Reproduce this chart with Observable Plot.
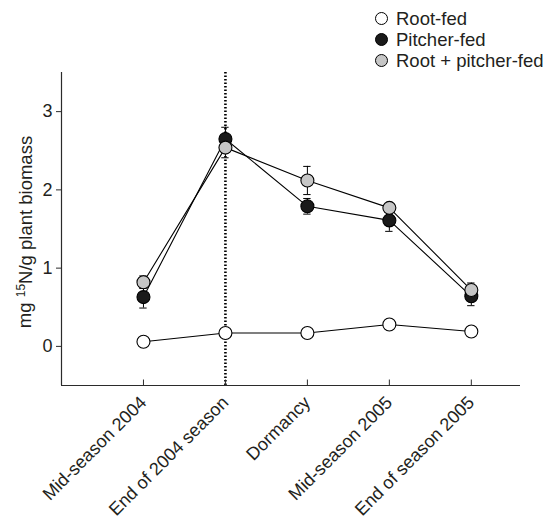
<!DOCTYPE html>
<html><head><meta charset="utf-8">
<script src="https://cdn.jsdelivr.net/npm/d3@7"></script>
<script src="https://cdn.jsdelivr.net/npm/@observablehq/plot@0.6"></script>
<style>
body{margin:0;background:#fff;font-family:"Liberation Sans",Arial,sans-serif;}
#wrap{position:relative;width:545px;height:520px;}
#legend{position:absolute;left:375px;top:8px;font-size:18.5px;color:#231f20;}
.row{display:flex;align-items:center;height:21px;white-space:nowrap;}
.sw{width:13px;height:13px;border-radius:50%;border:1px solid #000;box-sizing:border-box;margin-right:8px;flex:none;}
</style></head><body><div id="wrap"><div id="legend"></div></div>
<script>
const categories = ["Mid-season 2004","End of 2004 season","Dormancy","Mid-season 2005","End of season 2005"];
const seriesNames = ["Root-fed","Pitcher-fed","Root + pitcher-fed"];
const rootFed = [0.06,0.17,0.17,0.28,0.19];
const rootFedSE = [0.02,0.02,0.02,0.02,0.02];
const pitcherFed = [0.63,2.65,1.79,1.61,0.64];
const pitcherFedSE = [0.14,0.15,0.10,0.14,0.12];
const rootPitcherFed = [0.82,2.54,2.12,1.77,0.72];
const rootPitcherFedSE = [0.08,0.13,0.18,0.04,0.09];
const yTicks = [0,1,2,3];
const yLabelParts = ["mg ", "15", "N/g plant biomass"];
const fills = ["#ffffff","#1a1a1a","#c6c6c6"];
const markerCategory = "End of 2004 season";

const values = [rootFed, pitcherFed, rootPitcherFed];
const ses = [rootFedSE, pitcherFedSE, rootPitcherFedSE];
const rows = [];
seriesNames.forEach((s, k) => categories.forEach((c, i) => rows.push({series: s, k, i, value: values[k][i], se: ses[k][i]})));
const fillOf = Object.fromEntries(seriesNames.map((s, k) => [s, fills[k]]));
const capHalf = 0.045;

const chart = Plot.plot({
  width: 545, height: 520,
  marginLeft: 61, marginRight: 25, marginTop: 72, marginBottom: 135,
  style: {fontFamily: "Liberation Sans, Arial, sans-serif", fontSize: "18px", color: "#231f20", background: "white", overflow: "visible"},
  x: {type: "linear", domain: [-1, 4.6]},
  y: {domain: [-0.5, 3.5]},
  marks: [
    Plot.ruleX([categories.indexOf(markerCategory)], {x: d => d, y1: -0.5, y2: 3.5, stroke: "#000", strokeWidth: 2.6, strokeDasharray: "1.6,1.9"}),
    Plot.ruleX([-1], {stroke: "#2b2b2b", strokeWidth: 1.2}),
    Plot.ruleY([-0.5], {stroke: "#2b2b2b", strokeWidth: 1.2}),
    Plot.axisY({ticks: yTicks, tickFormat: "d", tickSize: 5, tickPadding: 4, stroke: "#2b2b2b", label: null}),
    Plot.text([yLabelParts.join("")], {frameAnchor: "left", rotate: -90, dx: -36, dy: 3, textAnchor: "middle", fill: "#231f20", className: "ylabel", fontSize: 18.5}),
    Plot.axisX({ticks: d3.range(categories.length), tickFormat: i => categories[i], tickRotate: -45, tickSize: 0, tickPadding: 14, label: null}),
    Plot.ruleX(d3.range(categories.length), {x: d => d, y1: -0.5, y2: -0.43, stroke: "#2b2b2b"}),
    Plot.line(rows, {x: "i", y: "value", z: "series", stroke: "#000", strokeWidth: 1.1}),
    Plot.ruleX(rows, {x: "i", y1: d => d.value - d.se, y2: d => d.value + d.se, stroke: "#000", strokeWidth: 1}),
    Plot.ruleY(rows, {y: d => d.value - d.se, x1: d => d.i - capHalf, x2: d => d.i + capHalf, stroke: "#000", strokeWidth: 1}),
    Plot.ruleY(rows, {y: d => d.value + d.se, x1: d => d.i - capHalf, x2: d => d.i + capHalf, stroke: "#000", strokeWidth: 1}),
    Plot.dot(rows, {x: "i", y: "value", r: 6.5, fill: d => fillOf[d.series], stroke: "#000", strokeWidth: 1.1})
  ]
});
document.getElementById("wrap").appendChild(chart);

// rebuild the y label with a real superscript
const lab = chart.querySelector(".ylabel text");
if (lab) {
  lab.textContent = "";
  const ns = "http://www.w3.org/2000/svg";
  const t1 = document.createElementNS(ns, "tspan"); t1.textContent = yLabelParts[0];
  const t2 = document.createElementNS(ns, "tspan"); t2.textContent = yLabelParts[1];
  t2.setAttribute("font-size", "12"); t2.setAttribute("dy", "-0.5em");
  const t3 = document.createElementNS(ns, "tspan"); t3.textContent = yLabelParts[2];
  t3.setAttribute("dy", "0.33em");
  lab.appendChild(t1); lab.appendChild(t2); lab.appendChild(t3);
}

const legend = document.getElementById("legend");
seriesNames.forEach((s, k) => {
  const row = document.createElement("div");
  row.className = "row";
  const sw = document.createElement("span");
  sw.className = "sw";
  sw.style.background = fills[k];
  const t = document.createElement("span");
  t.textContent = s;
  row.appendChild(sw); row.appendChild(t);
  legend.appendChild(row);
});
</script></body></html>
